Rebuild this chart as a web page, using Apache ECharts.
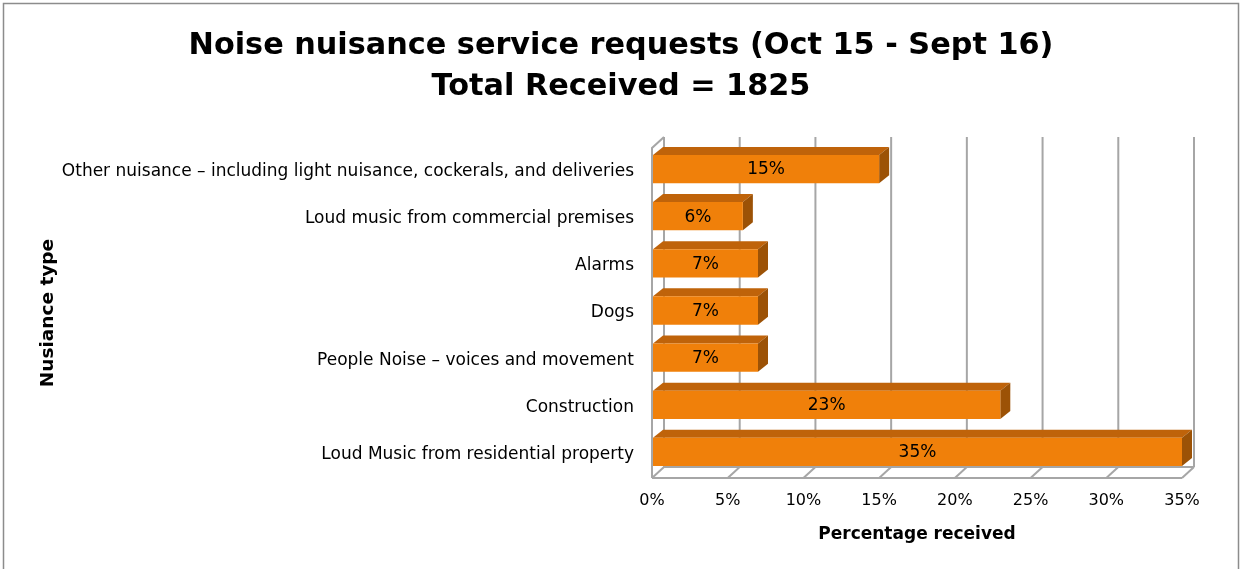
<!DOCTYPE html>
<html>
<head>
<meta charset="utf-8">
<script src="https://cdn.jsdelivr.net/npm/echarts@6/dist/echarts.min.js"></script>
<style>html,body{margin:0;padding:0;background:#fff}#c{width:1242px;height:569px}</style>
</head>
<body>
<div id="c"></div>
<script>
const categories = [
  'Other nuisance \u2013 including light nuisance, cockerals, and deliveries',
  'Loud music from commercial premises',
  'Alarms',
  'Dogs',
  'People Noise \u2013 voices and movement',
  'Construction',
  'Loud Music from residential property'
];
const percentValues = [15, 6, 7, 7, 7, 23, 35];
const xTicks = [0, 5, 10, 15, 20, 25, 30, 35];
const titleText = 'Noise nuisance service requests (Oct 15 - Sept 16)\nTotal Received = 1825';

const FONT = 'DejaVu Sans';
const DX = 12, DY = -11;     // wall depth
const BDX = 10, BDY = -8;    // bar depth
const GRAY = '#a6a6a6';

const chart = echarts.init(document.getElementById('c'), null, {renderer: 'canvas'});

function wallRender(params, api) {
  const cs = params.coordSys;
  const v = api.value(0);
  const x = api.coord([v, 0])[0];
  const top = cs.y, bot = cs.y + cs.height;
  const children = [];
  children.push({type: 'line', shape: {x1: x + DX, y1: top + DY, x2: x + DX, y2: bot + DY},
    style: {stroke: GRAY, lineWidth: 2}});
  children.push({type: 'line', shape: {x1: x, y1: bot, x2: x + DX, y2: bot + DY},
    style: {stroke: GRAY, lineWidth: 2}});
  if (params.dataIndex === 0) {
    const xr = api.coord([xTicks[xTicks.length - 1], 0])[0];
    children.push({type: 'polyline', shape: {points: [[x, bot], [x, top], [x + DX, top + DY]]},
      style: {stroke: GRAY, lineWidth: 2, fill: null}});
    children.push({type: 'line', shape: {x1: x, y1: bot, x2: xr, y2: bot}, style: {stroke: GRAY, lineWidth: 2}});
    children.push({type: 'line', shape: {x1: x + DX, y1: bot + DY, x2: xr + DX, y2: bot + DY}, style: {stroke: GRAY, lineWidth: 2}});
  }
  return {type: 'group', children: children};
}

function barRender(params, api) {
  const v = api.value(0);
  const ci = api.value(1);
  const p0 = api.coord([0, ci]);
  const p1 = api.coord([v, ci]);
  const band = api.size([0, 1])[1];
  const h = band * 0.6;
  const cy = p0[1] - 2.5;
  const x0 = p0[0] + 1, x1 = p1[0], yT = cy - h / 2, yB = cy + h / 2;
  return {type: 'group', children: [
    {type: 'polygon', shape: {points: [[x0, yT], [x0 + BDX, yT + BDY], [x1 + BDX, yT + BDY], [x1, yT]]},
      style: {fill: '#bf630a'}},
    {type: 'polygon', shape: {points: [[x1, yT], [x1 + BDX, yT + BDY], [x1 + BDX, yB + BDY], [x1, yB]]},
      style: {fill: '#9c5206'}},
    {type: 'rect', shape: {x: x0, y: yT, width: x1 - x0, height: h},
      style: {fill: '#f0800a'}},
    {type: 'text', x: (x0 + x1) / 2, y: cy + 1,
      style: {text: v + '%', font: '17px ' + FONT, fill: '#000', align: 'center', verticalAlign: 'middle'}}
  ]};
}

chart.setOption({
  animation: false,
  backgroundColor: '#fff',
  title: {
    text: titleText, left: 'center', top: 21,
    textStyle: {fontFamily: FONT, fontSize: 30.3, fontWeight: 'bold', color: '#000', lineHeight: 41}
  },
  graphic: [{type: 'rect', shape: {x: 3.5, y: 3.5, width: 1235, height: 600},
    style: {fill: null, stroke: '#8c8c8c', lineWidth: 1.5}, silent: true, z: -10}],
  grid: {left: 652, right: 60, top: 148, bottom: 91},
  xAxis: {
    type: 'value', min: 0, max: 35, interval: 5,
    axisLine: {show: false}, axisTick: {show: false}, splitLine: {show: false},
    axisLabel: {formatter: '{value}%', fontFamily: FONT, fontSize: 16, color: '#000', margin: 15},
    name: 'Percentage received', nameLocation: 'middle', nameGap: 48,
    nameTextStyle: {fontFamily: FONT, fontSize: 17, fontWeight: 'bold', color: '#000'}
  },
  yAxis: {
    type: 'category', data: categories, inverse: true,
    axisLine: {show: false}, axisTick: {show: false},
    axisLabel: {fontFamily: FONT, fontSize: 17, color: '#000', margin: 18},
    name: 'Nusiance type', nameLocation: 'middle', nameRotate: 90, nameGap: 584,
    nameTextStyle: {fontFamily: FONT, fontSize: 18.5, fontWeight: 'bold', color: '#000'}
  },
  series: [
    {type: 'custom', renderItem: wallRender, data: xTicks.map(t => [t, 0]), encode: {x: 0, y: 1}, z: 1, silent: true},
    {type: 'custom', renderItem: barRender, data: percentValues.map((v, i) => [v, i]), encode: {x: 0, y: 1}, z: 2, silent: true}
  ]
});
</script>
</body>
</html>
